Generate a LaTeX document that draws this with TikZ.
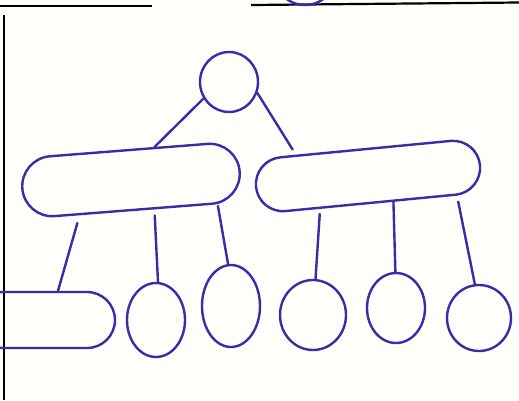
\documentclass[tikz,border=0pt]{standalone}
\usetikzlibrary{shapes.geometric,shapes.misc}
\definecolor{penblue}{RGB}{52,46,168}
\definecolor{paper}{RGB}{255,255,252}
\begin{document}
\begin{tikzpicture}[x=1pt,y=-1pt,
  pen/.style={draw=penblue,line width=2.4pt},
  ring/.style={pen,ellipse,inner sep=0pt},
  pill/.style={pen,rounded rectangle,inner sep=0pt},
  link/.style={penblue,line width=2.4pt,line cap=round},
  frame/.style={black,line width=2.2pt}]
\fill[paper] (0,0) rectangle (519,400);
\useasboundingbox (0,0) rectangle (519,400);
\clip (0,0) rectangle (519,400);
% frame lines of the paper
\draw[frame] (0,6) -- (152,6);
\draw[frame] (251,5) -- (519,2.5);
\draw[frame] (4,15) -- (4,400);
% shapes
\node[ring,minimum width=62,minimum height=62] (tc) at (305,-26) {};
\node[ring,minimum width=58,minimum height=60] (root) at (229,82) {};
\node[pill,minimum width=218,minimum height=60,rotate=4.5] (lp) at (131,180) {};
\node[pill,minimum width=225,minimum height=54,rotate=5.5] (rp) at (368,176) {};
\node[pill,minimum width=140,minimum height=56] (bl) at (45,320) {};
\node[ring,minimum width=58,minimum height=74] (c2) at (156,320) {};
\node[ring,minimum width=58,minimum height=82] (c3) at (231,306) {};
\node[ring,minimum width=66,minimum height=70] (c4) at (313,315) {};
\node[ring,minimum width=58,minimum height=70] (c5) at (396,308) {};
\node[ring,minimum width=64,minimum height=66] (c6) at (479,318) {};
% connectors
\draw[link] (root.213.7) -- (lp.50.9);
\draw[link,shorten >=6pt] (root.339.2) -- (rp.158.5);
\draw[link,shorten <=8pt] (lp.210.7) -- (bl.66.8);
\draw[link,shorten <=6pt] (lp.304.6) -- (c2.87);
\draw[link,shorten <=2pt] (lp.340.5) -- (c3.94);
\draw[link,shorten <=5pt] (rp.209.5) -- (c4.86.5);
\draw[link] (rp.309.8) -- (c5.91.6);
\draw[link,shorten <=6pt] (rp.342.9) -- (c6.97.4);
\end{tikzpicture}
\end{document}
